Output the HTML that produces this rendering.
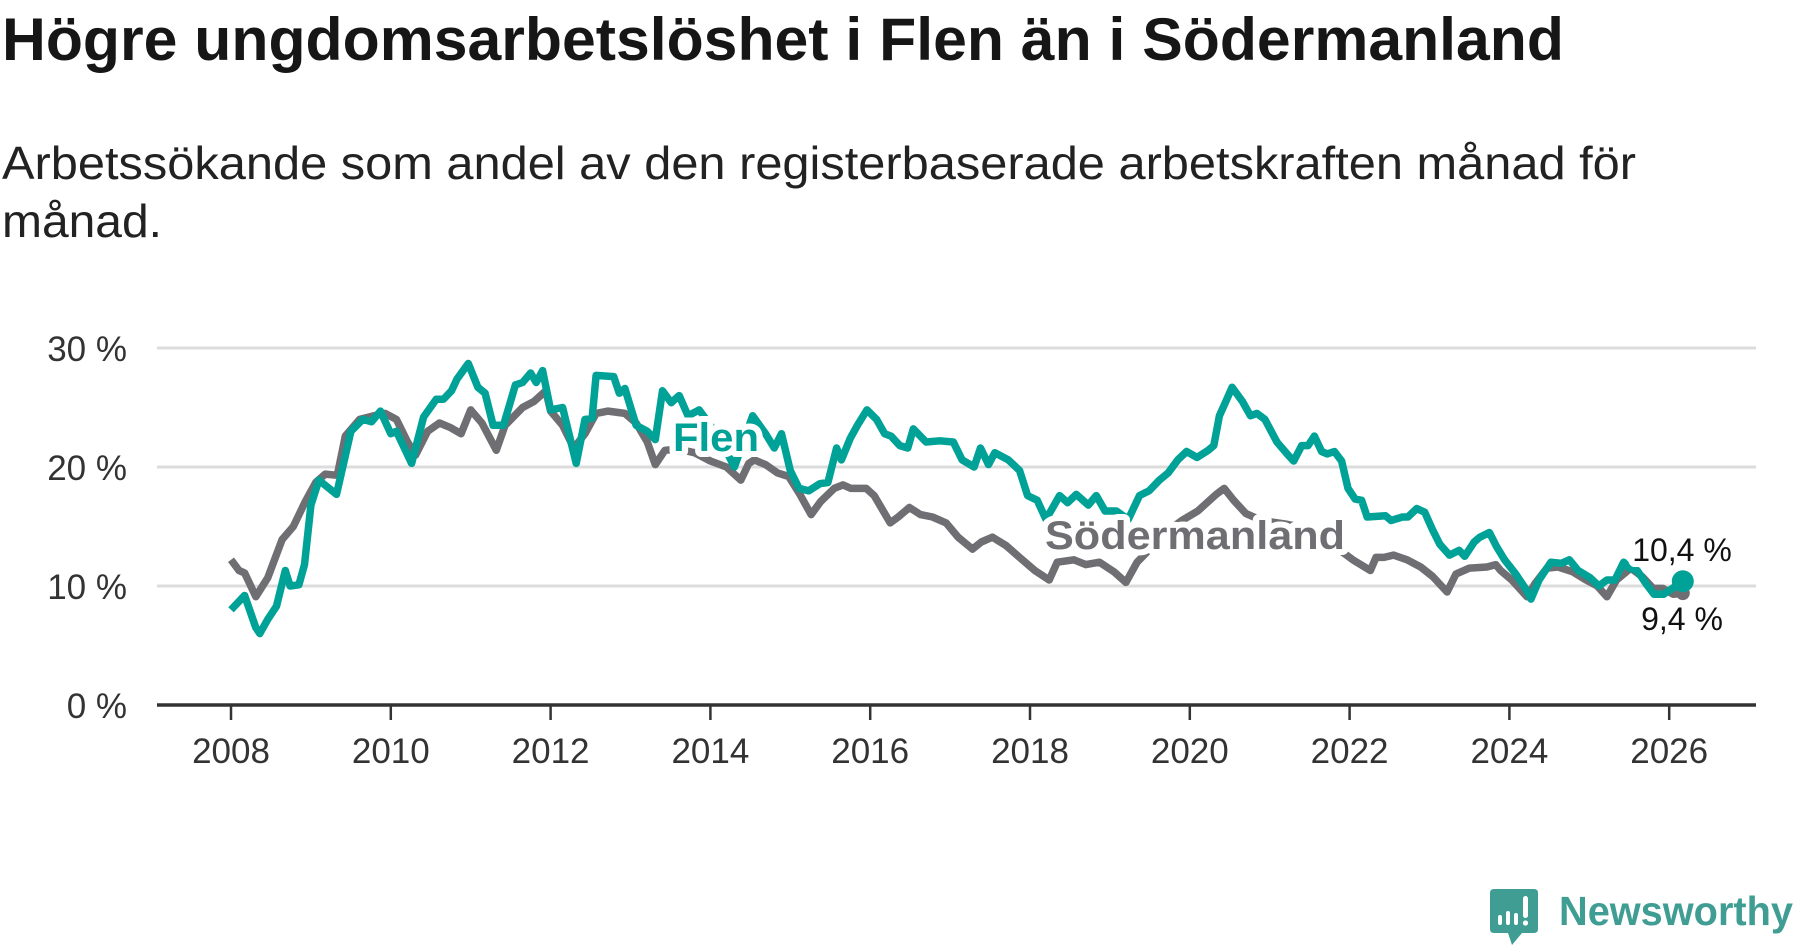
<!DOCTYPE html>
<html><head><meta charset="utf-8">
<style>
html,body{margin:0;padding:0;background:#fff;}
svg{display:block;font-family:"Liberation Sans","DejaVu Sans",sans-serif;}
</style></head>
<body>
<svg id="chart" width="1800" height="948" viewBox="0 0 1800 948" xmlns="http://www.w3.org/2000/svg">
<text x="2" y="60" font-size="60" font-weight="bold" fill="#161616" textLength="1562" lengthAdjust="spacingAndGlyphs">Högre ungdomsarbetslöshet i Flen än i Södermanland</text>
<text x="2" y="179" font-size="46" fill="#222" textLength="1634" lengthAdjust="spacingAndGlyphs">Arbetssökande som andel av den registerbaserade arbetskraften månad för</text>
<text x="2" y="237" font-size="46" fill="#222" textLength="160" lengthAdjust="spacingAndGlyphs">månad.</text>
<g id="grid"></g>
<g id="yaxis"></g>
<g id="xaxis"></g>
<g id="series"></g>
<g id="labels"></g>
<g>
  <path d="M1494 889 H1534 Q1538 889 1538 893 V929 Q1538 933 1534 933 H1522 L1512 945 L1508 933 H1494 Q1490 933 1490 929 V893 Q1490 889 1494 889 Z" fill="#3f9d93"/>
  <rect x="1498" y="915" width="4" height="10" rx="2" fill="#fff"/>
  <rect x="1506" y="911" width="4" height="14" rx="2" fill="#fff"/>
  <rect x="1514" y="913" width="4" height="12" rx="2" fill="#fff"/>
  <rect x="1523" y="896" width="5" height="22" rx="2.5" fill="#fff"/>
  <circle cx="1525.5" cy="923" r="2.6" fill="#fff"/>
  <text x="1559" y="925" font-size="41" font-weight="bold" fill="#3f9d93" textLength="234" lengthAdjust="spacingAndGlyphs">Newsworthy</text>
</g>
</svg>
<script>
const yTicks = [0, 10, 20, 30];
const yTickLabels = ["0 %", "10 %", "20 %", "30 %"];
const xTicks = [2008, 2010, 2012, 2014, 2016, 2018, 2020, 2022, 2024, 2026];
const xTickLabels = ["2008","2010","2012","2014","2016","2018","2020","2022","2024","2026"];

const flenYears = [2008.0,2008.17,2008.31,2008.36,2008.46,2008.57,2008.68,2008.74,2008.85,2008.92,2009.0,2009.1,2009.32,2009.5,2009.65,2009.76,2009.87,2010.0,2010.07,2010.26,2010.41,2010.57,2010.66,2010.76,2010.83,2010.97,2011.09,2011.18,2011.28,2011.41,2011.56,2011.65,2011.75,2011.82,2011.9,2012.0,2012.15,2012.32,2012.43,2012.52,2012.57,2012.79,2012.86,2012.93,2013.07,2013.21,2013.31,2013.4,2013.51,2013.61,2013.72,2013.86,2014.0,2014.15,2014.3,2014.53,2014.69,2014.8,2014.89,2015.0,2015.11,2015.23,2015.37,2015.47,2015.58,2015.64,2015.75,2015.84,2015.96,2016.08,2016.18,2016.26,2016.37,2016.47,2016.54,2016.7,2016.87,2017.04,2017.15,2017.3,2017.38,2017.48,2017.56,2017.73,2017.87,2017.97,2018.09,2018.2,2018.37,2018.47,2018.58,2018.73,2018.83,2018.94,2019.08,2019.23,2019.37,2019.49,2019.62,2019.73,2019.85,2019.96,2020.09,2020.23,2020.3,2020.37,2020.45,2020.53,2020.66,2020.76,2020.84,2020.94,2021.09,2021.23,2021.3,2021.4,2021.48,2021.56,2021.65,2021.72,2021.81,2021.9,2021.98,2022.07,2022.15,2022.22,2022.45,2022.52,2022.66,2022.73,2022.84,2022.94,2023.04,2023.13,2023.25,2023.37,2023.44,2023.56,2023.63,2023.75,2023.84,2023.94,2024.08,2024.2,2024.27,2024.37,2024.52,2024.65,2024.75,2024.86,2025.01,2025.12,2025.22,2025.32,2025.43,2025.5,2025.6,2025.71,2025.81,2025.93,2026.17];
const flenValues = [8.0,9.2,6.5,6.0,7.2,8.3,11.3,10.0,10.1,11.8,16.8,18.9,17.7,23.0,24.0,23.8,24.7,22.8,23.0,20.3,24.2,25.7,25.7,26.4,27.4,28.7,26.7,26.2,23.5,23.5,26.9,27.1,27.9,27.1,28.1,24.8,25.0,20.3,24.0,24.1,27.7,27.6,26.2,26.6,23.5,23.0,22.3,26.4,25.4,26.0,24.3,24.8,23.5,22.0,20.0,24.3,22.8,21.6,22.8,19.7,18.2,18.0,18.6,18.7,21.6,20.6,22.4,23.5,24.8,24.0,22.8,22.6,21.8,21.6,23.2,22.1,22.2,22.1,20.6,20.0,21.6,20.2,21.2,20.6,19.7,17.6,17.2,15.6,17.6,17.0,17.7,16.8,17.6,16.3,16.3,15.6,17.6,18.0,18.9,19.5,20.6,21.3,20.8,21.4,21.8,24.3,25.5,26.7,25.5,24.3,24.5,24.0,22.1,21.0,20.5,21.8,21.8,22.6,21.3,21.1,21.3,20.5,18.2,17.3,17.2,15.8,15.9,15.5,15.8,15.8,16.5,16.2,14.7,13.5,12.6,13.0,12.5,13.7,14.1,14.5,13.3,12.2,11.0,9.8,8.9,10.5,12.0,11.9,12.2,11.3,10.7,10.0,10.5,10.5,12.0,11.5,11.3,10.2,9.3,9.3,10.4];

const sodYears = [2008.0,2008.1,2008.17,2008.31,2008.46,2008.64,2008.78,2008.93,2009.06,2009.18,2009.33,2009.43,2009.61,2009.79,2009.93,2010.07,2010.21,2010.31,2010.46,2010.61,2010.75,2010.88,2011.0,2011.14,2011.32,2011.43,2011.65,2011.79,2011.94,2012.0,2012.15,2012.29,2012.43,2012.57,2012.72,2012.93,2013.07,2013.21,2013.31,2013.43,2013.6,2013.8,2014.0,2014.2,2014.38,2014.48,2014.55,2014.69,2014.84,2014.98,2015.12,2015.26,2015.38,2015.55,2015.66,2015.76,2015.95,2016.05,2016.25,2016.35,2016.49,2016.63,2016.78,2016.95,2017.1,2017.28,2017.39,2017.53,2017.7,2017.87,2018.06,2018.24,2018.34,2018.55,2018.7,2018.87,2019.05,2019.2,2019.34,2019.5,2019.7,2019.9,2020.1,2020.33,2020.43,2020.55,2020.7,2020.9,2021.2,2021.5,2021.86,2022.04,2022.26,2022.33,2022.43,2022.55,2022.72,2022.89,2023.04,2023.22,2023.33,2023.5,2023.72,2023.83,2023.89,2024.03,2024.22,2024.32,2024.47,2024.61,2024.79,2024.96,2025.1,2025.22,2025.34,2025.52,2025.66,2025.8,2025.92,2026.05,2026.17];
const sodValues = [12.2,11.3,11.1,9.1,10.7,13.9,15.0,17.1,18.7,19.4,19.3,22.6,24.0,24.3,24.5,24.0,22.1,21.0,23.0,23.7,23.3,22.8,24.8,23.7,21.4,23.5,25.0,25.5,26.4,24.7,23.5,21.6,22.8,24.5,24.7,24.5,23.7,22.1,20.2,21.4,21.5,21.2,20.5,20.0,18.9,20.3,20.6,20.2,19.5,19.2,17.7,16.0,17.1,18.2,18.5,18.2,18.2,17.6,15.3,15.8,16.6,16.0,15.8,15.3,14.1,13.1,13.7,14.1,13.4,12.4,11.3,10.5,12.0,12.2,11.8,12.0,11.2,10.3,12.0,13.1,14.5,15.5,16.3,17.7,18.2,17.2,16.1,15.5,15.2,14.8,13.1,12.2,11.3,12.4,12.4,12.6,12.2,11.6,10.8,9.5,11.0,11.5,11.6,11.8,11.3,10.5,9.1,10.2,11.5,11.6,11.2,10.5,10.0,9.1,10.5,11.5,10.8,9.8,9.8,9.3,9.4];

const NS = "http://www.w3.org/2000/svg";
const x0 = 231, pxPerYear = 79.9, y0 = 705, pxPerPct = 11.9;
function xs(yr){ return x0 + (yr - 2008) * pxPerYear; }
function ys(v){ return y0 - v * pxPerPct; }
function mk(tag, attrs, parent){ const e = document.createElementNS(NS, tag); for (const k in attrs) e.setAttribute(k, attrs[k]); parent.appendChild(e); return e; }

const grid = document.getElementById('grid');
const yaxis = document.getElementById('yaxis');
yTicks.forEach((t, i) => {
  if (t > 0) {
    const l = mk('line', {x1:157, x2:1756, y1:ys(t), y2:ys(t), stroke:'#dcdcdc', 'stroke-width':3}, grid);
    
    
  }
  const tx = mk('text', {x:127, y:ys(t)+13, 'font-size':35, fill:'#333', 'text-anchor':'end'}, yaxis);
  tx.textContent = yTickLabels[i];
  
  
});
const xaxis = document.getElementById('xaxis');
const base = mk('line', {x1:157, x2:1756, y1:y0, y2:y0, stroke:'#333', 'stroke-width':3.5}, xaxis);


xTicks.forEach((t, i) => {
  const tk = mk('line', {x1:xs(t), x2:xs(t), y1:y0, y2:y0+15, stroke:'#333', 'stroke-width':2.5}, xaxis);
  
  
  const tx = mk('text', {x:xs(t), y:763, 'font-size':35, fill:'#333', 'text-anchor':'middle'}, xaxis);
  tx.textContent = xTickLabels[i];
  
  
});

const series = document.getElementById('series');
function path(years, vals){ return years.map((y,i)=>(i?'L':'M')+xs(y).toFixed(1)+' '+ys(vals[i]).toFixed(1)).join(' '); }
const sod = mk('path', {d:path(sodYears, sodValues), fill:'none', stroke:'#6f6e73', 'stroke-width':7.5, 'stroke-linejoin':'round'}, series);


const flen = mk('path', {d:path(flenYears, flenValues), fill:'none', stroke:'#00a297', 'stroke-width':7.5, 'stroke-linejoin':'round'}, series);


const lastF = flenYears.length - 1, lastS = sodYears.length - 1;
const sdot = mk('circle', {cx:xs(sodYears[lastS]), cy:ys(sodValues[lastS]), r:7, fill:'#6f6e73'}, series);


const fdot = mk('circle', {cx:xs(flenYears[lastF]), cy:ys(flenValues[lastF]), r:11, fill:'#00a297'}, series);



const labels = document.getElementById('labels');
function lab(txt, x, y, size, weight, color, anchor, name, len){
  const a = {x:x, y:y, 'font-size':size, 'font-weight':weight, fill:color, 'text-anchor':anchor, stroke:'#fff', 'stroke-width':12, 'stroke-linejoin':'round', 'paint-order':'stroke'};
  if (len) { a.textLength = len; a.lengthAdjust = 'spacingAndGlyphs'; }
  const t = mk('text', a, labels);
  t.textContent = txt;
  
  
  return t;
}
lab('Flen', 673, 451, 40, 'bold', '#00a297', 'start', 'flen-label', 86);
lab('Södermanland', 1045, 549, 40, 'bold', '#6f6e73', 'start', 'sodermanland-label', 300);
lab(flenValues[lastF].toFixed(1).replace('.', ',') + ' %', 1682, 561, 32, 'normal', '#111', 'middle', 'flen-end-value');
lab(sodValues[lastS].toFixed(1).replace('.', ',') + ' %', 1682, 630, 32, 'normal', '#111', 'middle', 'sodermanland-end-value');
</script>
</body></html>
